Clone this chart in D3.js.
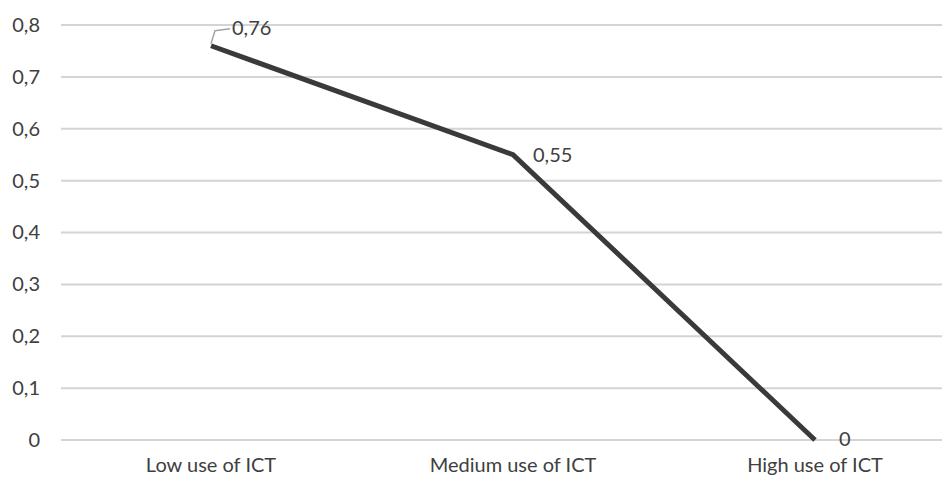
<!DOCTYPE html>
<html>
<head>
<meta charset="utf-8">
<script src="https://cdn.jsdelivr.net/npm/d3@7"></script>
<style>
  html, body { margin: 0; padding: 0; background: #fff; }
  svg { display: block; }
  text { font-family: Lato, "Open Sans", sans-serif; fill: #404040; }
</style>
</head>
<body>
<svg id="chart" width="942" height="477"></svg>
<script>
const categories = ["Low use of ICT", "Medium use of ICT", "High use of ICT"];
const values = [0.76, 0.55, 0];
const yTicks = [0, 0.1, 0.2, 0.3, 0.4, 0.5, 0.6, 0.7, 0.8];

const width = 942, height = 477;
const fontSize = 20;
const svg = d3.select("#chart");
const fmt = d => String(d).replace(".", ",");

const x = d3.scaleBand().domain(categories).range([60, 966]);
const y = d3.scaleLinear().domain([0, 0.8]).range([440, 25]);
const cx = c => x(c) + x.bandwidth() / 2;

// horizontal gridlines
svg.append("g").selectAll("line").data(yTicks).join("line")
  .attr("x1", 61).attr("x2", width)
  .attr("y1", d => y(d)).attr("y2", d => y(d))
  .attr("stroke", "#d4d4d4").attr("stroke-width", 2);

// y-axis labels
const yAxis = d3.axisLeft(y).tickValues(yTicks).tickFormat(fmt).tickSize(0).tickPadding(0);
const gy = svg.append("g").attr("transform", "translate(40,0)").call(yAxis);
gy.select(".domain").remove();
gy.selectAll("text").attr("font-size", fontSize).style("font-family", "Lato, 'Open Sans', sans-serif").attr("fill", "#404040");

// category labels
const xAxis = d3.axisBottom(x).tickSize(0).tickPadding(0);
const gx = svg.append("g").attr("transform", "translate(0,458)").call(xAxis);
gx.select(".domain").remove();
gx.selectAll("text").attr("font-size", fontSize).style("font-family", "Lato, 'Open Sans', sans-serif").attr("fill", "#404040");

// series line
const line = d3.line().x((d, i) => cx(categories[i])).y(d => y(d));
svg.append("path").datum(values)
  .attr("d", line)
  .attr("fill", "none")
  .attr("stroke", "#3a3a3a")
  .attr("stroke-width", 5)
  .attr("stroke-linejoin", "miter");

// leader line for the first label
const p0 = [cx(categories[0]), y(values[0])];
svg.append("path")
  .attr("d", `M${p0[0]},${p0[1] - 2} L${p0[0] + 4},${p0[1] - 15} L${p0[0] + 19},${p0[1] - 17}`)
  .attr("fill", "none").attr("stroke", "#a6a6a6").attr("stroke-width", 1.5);

// data labels
const labelOffsets = [[21, -16], [20, 2], [24, 1]];
svg.append("g").selectAll("text").data(values).join("text")
  .attr("x", (d, i) => cx(categories[i]) + labelOffsets[i][0])
  .attr("y", (d, i) => y(d) + labelOffsets[i][1])
  .attr("dominant-baseline", "middle")
  .attr("font-size", fontSize)
  .text(fmt);
</script>
</body>
</html>
